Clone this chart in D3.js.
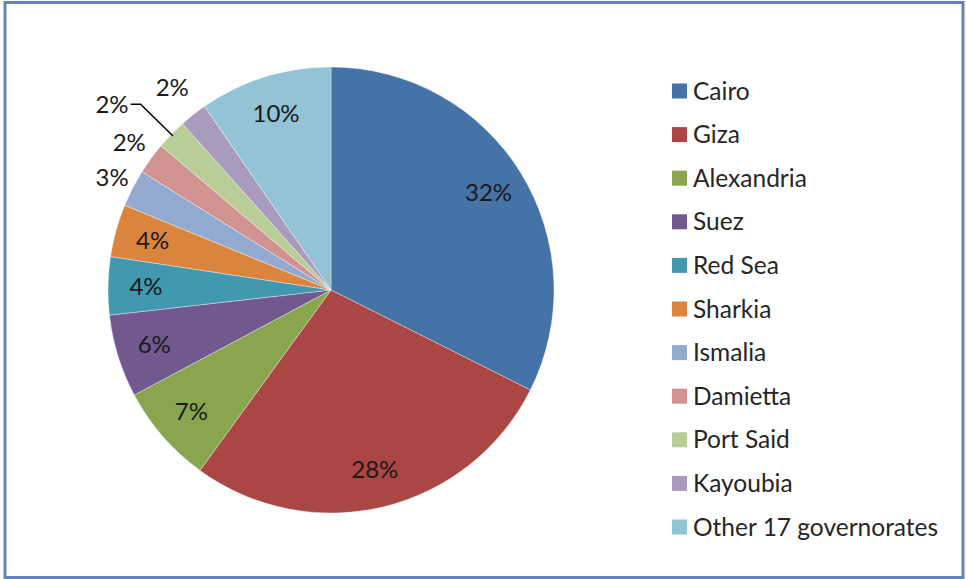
<html>
<head>
    <script src="https://cdn.jsdelivr.net/npm/d3@7/dist/d3.min.js"></script>
    <style>
        body { margin: 0; background: #fff; }
        text { font-family: Lato, "Open Sans", sans-serif; }
    </style>
</head>
<body>
    <script>

        // page size
        var width = 966, height = 579;

        // governorates, clockwise from 12 o'clock
        var names = ["Cairo", "Giza", "Alexandria", "Suez", "Red Sea", "Sharkia",
                     "Ismalia", "Damietta", "Port Said", "Kayoubia", "Other 17 governorates"];

        // share in percent
        var shares = [32.4, 27.6, 7.2, 6.0, 4.2, 3.8, 2.7, 2.3, 2.2, 2.0, 9.6];

        // excel style colours
        var colours = ["#4572a7", "#aa4643", "#89a54e", "#71588f", "#4198af", "#db843d",
                       "#93a9cf", "#d19392", "#b9cd96", "#a99bbd", "#92c3d6"];

        var svg = d3.select("body")
            .append("svg")
            .attr("width", width)
            .attr("height", height);

        // outer frame
        svg.append("rect")
            .attr("x", 5)
            .attr("y", 2.5)
            .attr("width", 958)
            .attr("height", 575)
            .attr("fill", "#fff")
            .attr("stroke", "#6383ba")
            .attr("stroke-width", 3);

        var cx = 331, cy = 290, radius = 223;

        var pieGroup = svg.append("g")
            .attr("transform", "translate(" + cx + "," + cy + ")");

        var pie = d3.pie()
            .sort(null)
            .value(function (d) { return d; });

        var arcs = pie(shares);

        var arc = d3.arc()
            .innerRadius(0)
            .outerRadius(radius);

        pieGroup.selectAll("path")
            .data(arcs)
            .enter()
            .append("path")
            .attr("d", arc)
            .attr("fill", function (d, i) { return colours[i]; })
            .attr("stroke", "rgba(255,255,255,0.45)")
            .attr("stroke-width", 0.8);

        // point at angle a (radians, 0 = top, clockwise) and distance r
        function polar(a, r) {
            return [Math.sin(a) * r, -Math.cos(a) * r];
        }

        function midAngle(d) { return (d.startAngle + d.endAngle) / 2; }

        /*
         * label placement: big slices inside, small slices outside
         * port said is crowded so it gets an elbow leader line
         */
        var outside = { 6: 246, 7: 250, 9: 257 };
        var leaderIndex = 8;
        var labelSize = 24;

        var labelGroup = pieGroup.append("g");

        arcs.forEach(function (d, i) {
            var label = Math.round(d.data) + "%";
            var a = midAngle(d);
            var p;

            if (i == leaderIndex) {
                var start = polar(a, radius - 2);
                var elbow = polar(a, 266);
                var end = [elbow[0] - 10, elbow[1]];

                labelGroup.append("polyline")
                    .attr("points", [start, elbow, end].map(function (q) { return q.join(","); }).join(" "))
                    .attr("fill", "none")
                    .attr("stroke", "#000")
                    .attr("stroke-width", 1.5);

                labelGroup.append("text")
                    .attr("x", end[0] - 2)
                    .attr("y", end[1])
                    .attr("dy", "0.35em")
                    .attr("text-anchor", "end")
                    .attr("font-size", labelSize)
                    .attr("fill", "#1a1a1a")
                    .text(label);
                return;
            }

            if (outside[i]) {
                p = polar(a, outside[i]);
            } else {
                p = polar(a, radius * 0.83);
            }

            labelGroup.append("text")
                .attr("x", p[0])
                .attr("y", p[1])
                .attr("dy", "0.35em")
                .attr("text-anchor", "middle")
                .attr("font-size", labelSize)
                .attr("fill", "#1a1a1a")
                .text(label);
        });

        /*
         * legend on the right, one row per governorate
         */
        var rowY = d3.scalePoint()
            .domain(names)
            .range([91, 527]);

        var legend = svg.append("g");

        var rows = legend.selectAll("g")
            .data(names)
            .enter()
            .append("g")
            .attr("transform", function (d) { return "translate(672," + rowY(d) + ")"; });

        rows.append("rect")
            .attr("x", 0)
            .attr("y", -7.5)
            .attr("width", 15)
            .attr("height", 15)
            .attr("fill", function (d, i) { return colours[i]; });

        rows.append("text")
            .attr("x", 21)
            .attr("y", 0)
            .attr("dy", "0.35em")
            .attr("font-size", 24.5)
            .attr("fill", "#262626")
            .text(function (d) { return d; });

    </script>
</body>
</html>
